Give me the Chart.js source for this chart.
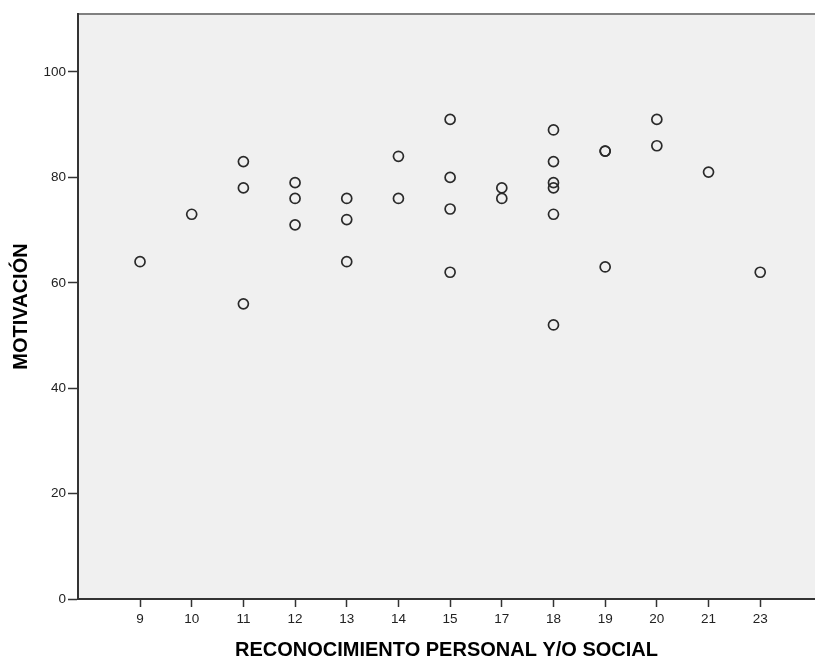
<!DOCTYPE html>
<html>
<head>
<meta charset="utf-8">
<script src="https://cdn.jsdelivr.net/npm/chart.js@4.4.0/dist/chart.umd.min.js"></script>
<style>
  html, body { margin: 0; padding: 0; background: #fff; }
</style>
</head>
<body>
<canvas id="myChart" width="815" height="659"></canvas>
<script>
// Categories shown on the x axis (16 and 22 are absent)
var categories = [9, 10, 11, 12, 13, 14, 15, 17, 18, 19, 20, 21, 23];
// One entry per respondent
var reconocimiento = [9, 10, 11, 11, 11, 12, 12, 12, 13, 13, 13, 14, 14, 15, 15, 15, 15,
                      17, 17, 18, 18, 18, 18, 18, 18, 19, 19, 19, 20, 20, 21, 23];
var motivacion = [64, 73, 83, 78, 56, 79, 76, 71, 76, 72, 64, 84, 76, 91, 80, 74, 62,
                  78, 76, 89, 83, 79, 78, 73, 52, 85, 85, 63, 91, 86, 81, 62];
var yTicks = [0, 20, 40, 60, 80, 100];

var points = reconocimiento.map(function (r, i) {
  return { x: categories.indexOf(r), y: motivacion[i] };
});

var fontFamily = "'Liberation Sans', Arial, sans-serif";

// grey plot panel + grey top frame line
var panel = {
  id: 'panel',
  beforeDraw: function (chart) {
    var ctx = chart.ctx, a = chart.chartArea;
    ctx.save();
    ctx.fillStyle = '#f0f0f0';
    ctx.fillRect(a.left, a.top, a.right - a.left, a.bottom - a.top);
    ctx.strokeStyle = '#808080';
    ctx.lineWidth = 2;
    ctx.beginPath();
    ctx.moveTo(a.left, a.top);
    ctx.lineTo(a.right, a.top);
    ctx.stroke();
    ctx.restore();
  }
};

new Chart(document.getElementById('myChart'), {
  type: 'scatter',
  data: {
    datasets: [{
      data: points,
      pointStyle: 'circle',
      pointRadius: 5,
      pointHoverRadius: 5,
      borderColor: '#2a2a2a',
      borderWidth: 1.7,
      backgroundColor: 'rgba(0,0,0,0)'
    }]
  },
  options: {
    responsive: false,
    animation: false,
    layout: { autoPadding: false, padding: { top: 14, right: 0, bottom: 0, left: 0 } },
    plugins: {
      legend: { display: false },
      tooltip: { enabled: false }
    },
    scales: {
      x: {
        type: 'linear',
        min: -1.2,
        max: 13.06,
        afterBuildTicks: function (s) {
          s.ticks = categories.map(function (c, i) { return { value: i }; });
        },
        afterFit: function (s) { s.height = 60; },
        grid: { drawOnChartArea: false, drawTicks: true, tickLength: 8, tickColor: '#333', tickWidth: 1.5 },
        border: { display: true, color: '#333', width: 2 },
        ticks: {
          padding: 4,
          color: '#222',
          autoSkip: false,
          maxRotation: 0,
          font: { family: fontFamily, size: 13.5 },
          callback: function (v) { return categories[v]; }
        },
        title: {
          display: true,
          text: 'RECONOCIMIENTO PERSONAL Y/O SOCIAL',
          color: '#000',
          font: { family: fontFamily, size: 20, weight: 'bold', lineHeight: 1 },
          padding: { top: 0, bottom: -1 }
        }
      },
      y: {
        min: 0,
        max: 111,
        afterBuildTicks: function (s) {
          s.ticks = yTicks.map(function (v) { return { value: v }; });
        },
        afterFit: function (s) { s.width = 78; },
        grid: { drawOnChartArea: false, drawTicks: true, tickLength: 10, tickColor: '#333', tickWidth: 1.5 },
        border: { display: true, color: '#333', width: 2 },
        ticks: {
          padding: 2,
          color: '#222',
          font: { family: fontFamily, size: 13.5 }
        },
        title: {
          display: true,
          text: 'MOTIVACIÓN',
          color: '#000',
          font: { family: fontFamily, size: 20, weight: 'bold', lineHeight: 1 },
          padding: { top: 11, bottom: 0 }
        }
      }
    }
  },
  plugins: [panel]
});
</script>
</body>
</html>
